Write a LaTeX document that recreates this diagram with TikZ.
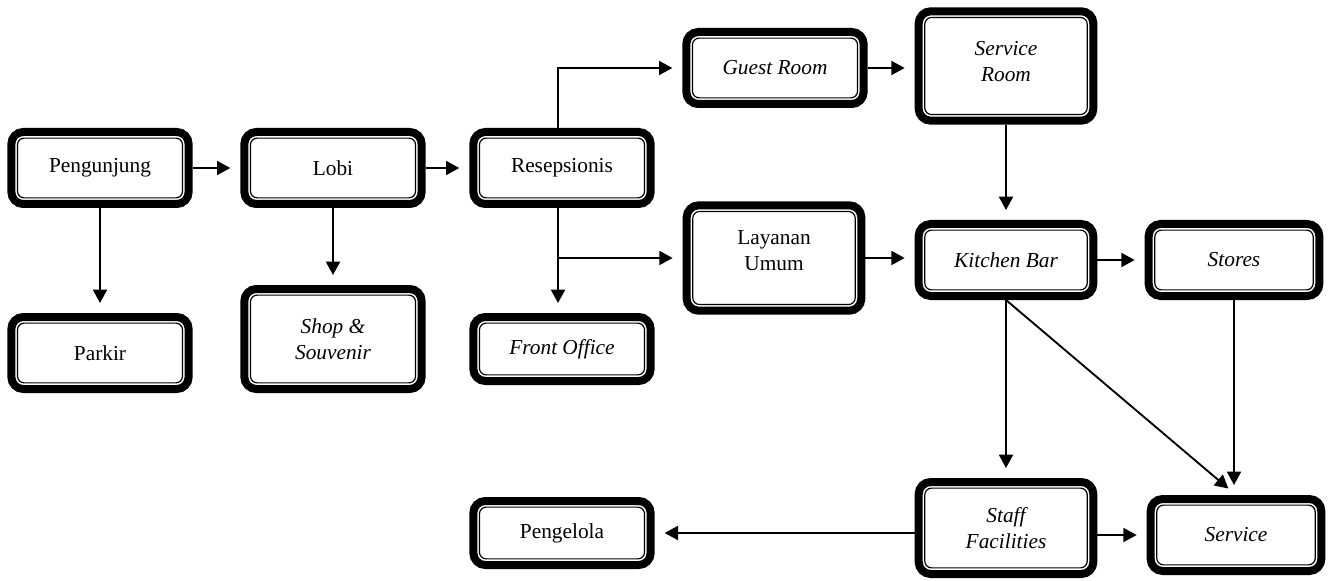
\documentclass[tikz,border=0pt]{standalone}
\usepackage{fontspec}
\setmainfont{Liberation Serif}
\usepackage{tikz}
\usetikzlibrary{positioning,arrows.meta,calc}

\begin{document}
\begin{tikzpicture}[
  x=0.75pt, y=-0.75pt,
  box/.style={draw, line width=6pt, rounded corners=9pt, fill=white,
              minimum width=133pt, minimum height=54pt, inner sep=2pt,
              align=center, font=\fontsize{16}{19.5}\selectfont,
              path picture={\draw[line width=0.9pt, rounded corners=5pt]
                ([shift={(4.6pt,4.6pt)}]path picture bounding box.south west) rectangle
                ([shift={(-4.6pt,-4.6pt)}]path picture bounding box.north east);}},
  ibox/.style={box, font=\fontsize{16}{19.5}\selectfont\itshape},
  ar/.style={-{Triangle[length=10pt,width=10.5pt]}, line width=1.4pt, shorten >=7.5pt}
]
\useasboundingbox (0,0) rectangle (1332,581);

% main row
\node[box] (peng) at (100,168) {Pengunjung};
\node[box] (lobi) at (333,168) {Lobi};
\node[box] (resep) at (562,168) {Resepsionis};
\node[box] (parkir) at (100,353) {Parkir};
\node[ibox, minimum height=75pt] (shop) at (333,339) {Shop \&\\Souvenir};
\node[ibox, minimum height=48pt] (fo) at (562,349) {Front Office};

% upper right
\node[ibox, minimum width=131pt, minimum height=82pt] (sroom) at (1006,66) {Service\\Room\\[-12pt]};
\node[ibox] (guest) at (775,68) {Guest Room};
\node[box, minimum width=131pt, minimum height=79pt] (lay) at (774,258) {Layanan\\Umum\\[-9pt]};
\node[ibox, minimum width=131pt] (kb) at (1006,260) {Kitchen Bar};
\node[ibox, minimum width=128pt] (stores) at (1234,260) {Stores};

% bottom
\node[ibox, minimum width=131pt, minimum height=69pt] (staff) at (1006,528) {Staff\\Facilities};
\node[ibox, minimum width=128pt] (serv) at (1236,535) {Service};
\node[box, minimum height=48pt] (mgr) at (562,533) {Pengelola};

\coordinate (rs) at ([xshift=-3pt]resep.south);

\draw[ar] (peng) -- (lobi);
\draw[ar] (lobi) -- (resep);
\draw[ar] (peng) -- (parkir);
\draw[ar] (lobi.south -| shop.north) -- (shop.north);
\draw[ar] (rs) -- (rs |- fo.north);
\draw[ar] (rs |- lay) -- (lay);
\draw[ar] (rs |- resep.north) |- (guest.west);
\draw[ar] (guest.east) -- (sroom.west |- guest.east);
\draw[ar] (sroom) -- (kb);
\draw[ar] (lay) -- (kb.west |- lay);
\draw[ar] (kb) -- (stores);
\draw[ar] (kb.south) -- (staff.north);
\draw[ar] (kb.south) -- (serv.north);
\draw[ar] (stores.south) -- (stores.south |- serv.north);
\draw[ar] (staff.east |- serv) -- (serv);
\draw[ar] (staff.west |- mgr) -- (mgr);
\end{tikzpicture}
\end{document}
